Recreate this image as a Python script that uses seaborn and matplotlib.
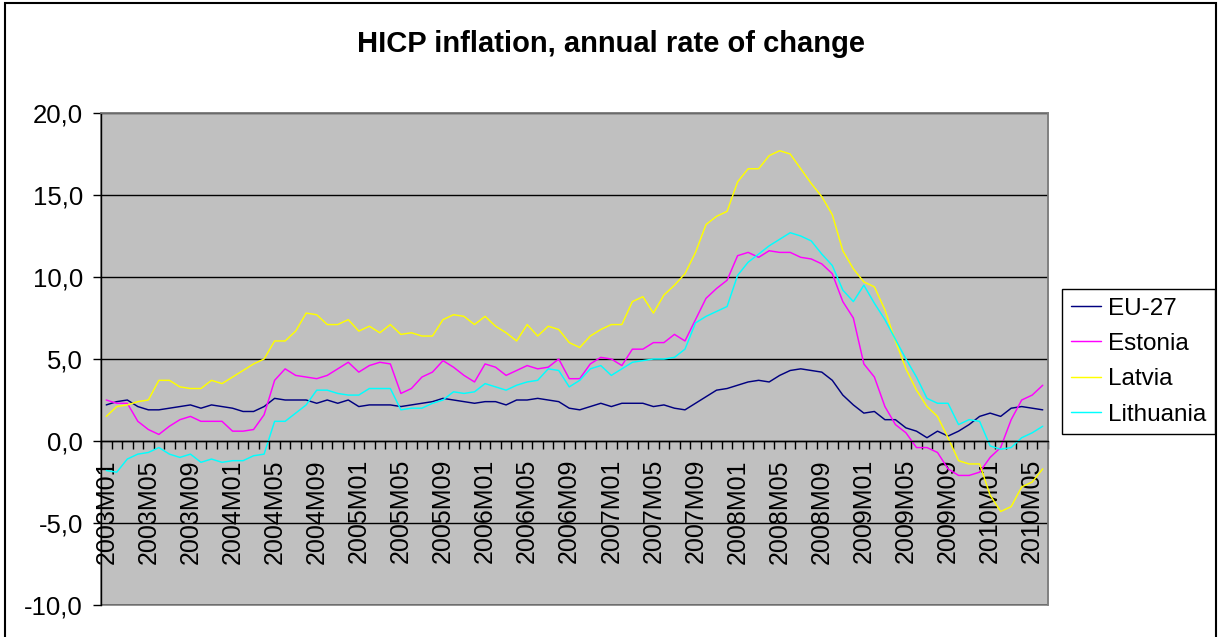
import matplotlib
matplotlib.use("Agg")
import matplotlib.pyplot as plt
from matplotlib.patches import Rectangle
from matplotlib.lines import Line2D
import numpy as np
import pandas as pd
import seaborn as sns

# Monthly periods 2003M01 .. 2010M06
years = list(range(2003, 2011))
periods = [f"{y}M{m:02d}" for y in years for m in range(1, 13)][:90]

series_names = ["EU-27", "Estonia", "Latvia", "Lithuania"]

eu27 = [
    2.2, 2.4, 2.5, 2.1, 1.9, 1.9, 2.0, 2.1, 2.2, 2.0, 2.2, 2.1, 2.0, 1.8, 1.8, 2.1,
    2.6, 2.5, 2.5, 2.5, 2.3, 2.5, 2.3, 2.5, 2.1, 2.2, 2.2, 2.2, 2.1, 2.2, 2.3,
    2.4, 2.6, 2.5, 2.4, 2.3, 2.4, 2.4, 2.2, 2.5, 2.5, 2.6, 2.5, 2.4, 2.0, 1.9,
    2.1, 2.3, 2.1, 2.3, 2.3, 2.3, 2.1, 2.2, 2.0, 1.9, 2.3, 2.7, 3.1, 3.2, 3.4,
    3.6, 3.7, 3.6, 4.0, 4.3, 4.4, 4.3, 4.2, 3.7, 2.8, 2.2,
    1.7, 1.8, 1.3, 1.3, 0.8, 0.6, 0.2, 0.6, 0.3, 0.6, 1.0, 1.5, 1.7, 1.5, 2.0, 2.1, 2.0, 1.9,
]

estonia = [
    2.5, 2.3, 2.3, 1.2, 0.7, 0.4, 0.9, 1.3, 1.5, 1.2, 1.2, 1.2, 0.6, 0.6, 0.7, 1.6,
    3.7, 4.4, 4.0, 3.9, 3.8, 4.0, 4.4, 4.8, 4.2, 4.6, 4.8, 4.7, 2.9, 3.2, 3.9,
    4.2, 4.9, 4.5, 4.0, 3.6, 4.7, 4.5, 4.0, 4.3, 4.6, 4.4, 4.5, 5.0, 3.8, 3.8,
    4.7, 5.1, 5.0, 4.6, 5.6, 5.6, 6.0, 6.0, 6.5, 6.1, 7.4, 8.7, 9.3, 9.8, 11.3,
    11.5, 11.2, 11.6, 11.5, 11.5, 11.2, 11.1, 10.8, 10.2, 8.5, 7.5, 4.7, 3.9, 2.1,
    1.0, 0.5, -0.4, -0.4, -0.7, -1.7, -2.1, -2.1, -1.9, -1.0, -0.4, 1.3, 2.5, 2.8, 3.4,
]

latvia = [
    1.5, 2.1, 2.2, 2.4, 2.5, 3.7, 3.7, 3.3, 3.2, 3.2, 3.7, 3.5, 3.9, 4.3, 4.7, 5.0,
    6.1, 6.1, 6.7, 7.8, 7.7, 7.1, 7.1, 7.4, 6.7, 7.0, 6.6, 7.1, 6.5, 6.6, 6.4,
    6.4, 7.4, 7.7, 7.6, 7.1, 7.6, 7.0, 6.6, 6.1, 7.1, 6.4, 7.0, 6.8, 6.0, 5.7,
    6.4, 6.8, 7.1, 7.1, 8.5, 8.8, 7.8, 8.9, 9.5, 10.2, 11.5, 13.2, 13.7, 14.0, 15.8,
    16.6, 16.6, 17.4, 17.7, 17.5, 16.6, 15.7, 14.9, 13.8, 11.6, 10.5, 9.7, 9.4, 8.0,
    6.1, 4.4, 3.1, 2.1, 1.5, 0.2, -1.2, -1.4, -1.4, -3.3, -4.3, -4.0, -2.8, -2.5, -1.7,
]

lithuania = [
    -1.8, -1.9, -1.1, -0.8, -0.7, -0.4, -0.8, -1.0, -0.8, -1.3, -1.1, -1.3, -1.2, -1.2, -0.9, -0.8,
    1.2, 1.2, 1.7, 2.2, 3.1, 3.1, 2.9, 2.8, 2.8, 3.2, 3.2, 3.2, 1.9, 2.0, 2.0,
    2.3, 2.5, 3.0, 2.9, 3.0, 3.5, 3.3, 3.1, 3.4, 3.6, 3.7, 4.4, 4.3, 3.3, 3.7,
    4.4, 4.6, 4.0, 4.4, 4.8, 4.9, 5.0, 5.0, 5.1, 5.6, 7.2, 7.6, 7.9, 8.2, 10.1,
    10.9, 11.4, 11.9, 12.3, 12.7, 12.5, 12.2, 11.4, 10.7, 9.2, 8.5, 9.5, 8.4, 7.4,
    6.2, 5.0, 3.9, 2.6, 2.3, 2.3, 1.0, 1.3, 1.2, -0.3, -0.5, -0.4, 0.2, 0.5, 0.9,
]

y_ticks = [-10, -5, 0, 5, 10, 15, 20]
y_tick_labels = ["-10,0", "-5,0", "0,0", "5,0", "10,0", "15,0", "20,0"]
title = "HICP inflation, annual rate of change"

colors = {"EU-27": "#000080", "Estonia": "#FF00FF",
          "Latvia": "#FFFF00", "Lithuania": "#00FFFF"}

df = pd.DataFrame({
    "idx": np.tile(np.arange(len(periods)), 4),
    "value": eu27 + estonia + latvia + lithuania,
    "series": np.repeat(series_names, len(periods)),
})

sns.set_style("white")
plt.rcParams["font.family"] = ["Liberation Sans", "DejaVu Sans"]
plt.rcParams["text.color"] = "black"
plt.rcParams["xtick.color"] = "black"
plt.rcParams["ytick.color"] = "black"
plt.rcParams["axes.labelcolor"] = "black"

W, H = 1219, 637
fig = plt.figure(figsize=(W / 100, H / 100), dpi=100)
fig.patch.set_facecolor("white")

# plot area in pixel coordinates
L, R, T, B = 101, 1048, 113, 605
ax = fig.add_axes([L / W, 1 - B / H, (R - L) / W, (B - T) / H])
ax.set_facecolor("#C0C0C0")

LW = 1.05
sns.lineplot(data=df, x="idx", y="value", hue="series", hue_order=series_names,
             palette=colors, linewidth=LW, legend=False, ax=ax, zorder=3)

ax.set_xlim(-0.5, len(periods) - 0.5)
ax.set_ylim(-10, 20)
ax.set_xlabel("")
ax.set_ylabel("")

# horizontal gridlines
ax.set_yticks(y_ticks)
ax.set_yticklabels(y_tick_labels, fontsize=18.5, color="black")
ax.yaxis.grid(True, color="black", linewidth=1.0)
ax.xaxis.grid(False)
ax.set_axisbelow(True)
ax.tick_params(axis="y", direction="out", length=6, width=1, color="black",
               pad=7, left=True, labelcolor="black")

# category axis crossing at zero
ax.spines["bottom"].set_position(("data", 0))
ax.spines["bottom"].set_color("black")
ax.spines["bottom"].set_linewidth(1.0)
ax.spines["bottom"].set_zorder(4)
ax.spines["left"].set_color("black")
ax.spines["left"].set_linewidth(1.0)
for s in ("top", "right"):
    ax.spines[s].set_color("#808080")
    ax.spines[s].set_linewidth(1.2)

label_idx = list(range(0, len(periods), 4))
ax.set_xticks(label_idx)
ax.set_xticklabels([periods[i] for i in label_idx], rotation=90, fontsize=18,
                   color="black")
ax.set_xticks(np.arange(-0.5, len(periods), 1), minor=True)
ax.tick_params(axis="x", which="major", length=0, direction="out", pad=13,
               bottom=True, labelcolor="black")
ax.tick_params(axis="x", which="minor", length=6, width=1, color="black",
               direction="out", bottom=True)

# lower edge of the plot area
ax.add_patch(Rectangle((0, 0), 1, 1, transform=ax.transAxes, fill=False,
                       edgecolor="#808080", linewidth=1.2, zorder=0.5,
                       clip_on=False))

fig.text(611 / W, 1 - 44 / H, title, ha="center", va="center",
         fontsize=21, fontweight="bold", color="black")

handles = [Line2D([0], [0], color=colors[n], linewidth=LW) for n in series_names]
leg = fig.legend(handles, series_names, loc="upper left",
                 bbox_to_anchor=(1062 / W, 1 - 289 / H),
                 fontsize=17.5, frameon=True, fancybox=False, framealpha=1,
                 edgecolor="black", handlelength=1.25, handletextpad=0.3,
                 borderpad=0.35, labelspacing=0.55, borderaxespad=0)
leg.get_frame().set_linewidth(1.0)
for t in leg.get_texts():
    t.set_color("black")

# outer chart border (its lower edge lies below the canvas)
fig.patches.append(Rectangle((5 / W, -0.05), 1211 / W, 1.05 - 3 / H,
                             transform=fig.transFigure, fill=False,
                             edgecolor="black", linewidth=1.5))

fig.savefig("out.png", dpi=100)
